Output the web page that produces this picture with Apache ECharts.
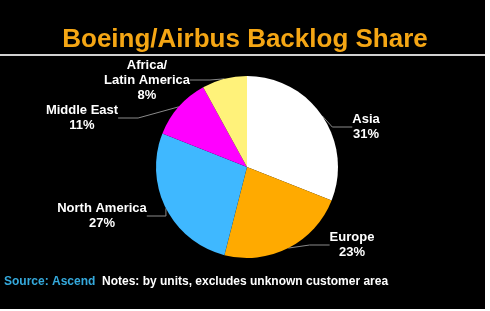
<!DOCTYPE html>
<html>
<head>
<meta charset="utf-8">
<script src="https://cdn.jsdelivr.net/npm/echarts@6/dist/echarts.min.js"></script>
<style>
html,body{margin:0;padding:0;background:#fff;}
#chart{width:490px;height:311px;}
</style>
</head>
<body>
<div id="chart"></div>
<script>
var categories = ['Asia', 'Europe', 'North America', 'Middle East', 'Africa/\nLatin America'];
var shares = [31, 23, 27, 11, 8];
var colors = ['#ffffff', '#ffaa00', '#3fb8ff', '#ff00ff', '#fff27a'];
var titleText = 'Boeing/Airbus Backlog Share';
var sourceText = 'Source: Ascend';
var notesText = 'Notes: by units, excludes unknown customer area';

// label block centres (layout only)
var labelCentres = [[366, 127], [352, 245], [102, 216], [82, 118], [147, 80]];

var chart = echarts.init(document.getElementById('chart'), null, {renderer: 'canvas'});
var data = categories.map(function (c, i) {
  return {name: c, value: shares[i], itemStyle: {color: colors[i]}};
});
chart.setOption({
  animation: false,
  backgroundColor: '#fff',
  graphic: [
    {type: 'rect', shape: {x: 0, y: 0, width: 485, height: 309}, style: {fill: '#000'}, z: -10},
    {type: 'rect', shape: {x: 0, y: 54, width: 485, height: 2}, style: {fill: '#d0d0d0'}},
    {type: 'text', left: 'center', top: 27, style: {text: titleText, fill: '#f5a614', font: 'bold 26px Arial, "Liberation Sans", sans-serif'}},
    {type: 'text', left: 4, top: 276, style: {text: sourceText, fill: '#35a9dc', font: 'bold 12px Arial, "Liberation Sans", sans-serif'}},
    {type: 'text', left: 102, top: 276, style: {text: notesText, fill: '#ffffff', font: 'bold 12px Arial, "Liberation Sans", sans-serif'}}
  ],
  series: [{
    type: 'pie',
    center: [247, 167],
    radius: [0, 91],
    startAngle: 90,
    clockwise: true,
    data: data,
    itemStyle: {borderWidth: 0},
    label: {
      show: true,
      position: 'outside',
      formatter: '{b}\n{d}%',
      color: '#fff',
      fontFamily: 'Arial, "Liberation Sans", sans-serif',
      fontWeight: 'bold',
      fontSize: 13,
      lineHeight: 15,
      align: 'center'
    },
    labelLine: {show: true, length: 10, length2: 20, lineStyle: {color: '#8a8a8a', width: 1}},
    labelLayout: function (p) {
      var c = labelCentres[p.dataIndex];
      return {x: c[0], y: c[1], align: 'center', verticalAlign: 'middle'};
    }
  }]
});
</script>
</body>
</html>
